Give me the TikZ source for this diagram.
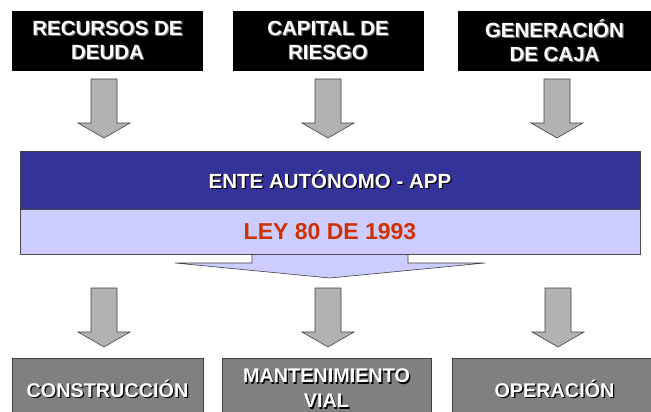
\documentclass[tikz,border=0pt]{standalone}
\usepackage{fontspec}
\setmainfont{Liberation Sans}
\usetikzlibrary{positioning}
\usepackage{xcolor}

\definecolor{enteblue}{HTML}{333399}
\definecolor{leyblue}{HTML}{CCCCFF}
\definecolor{leyred}{HTML}{CC3300}
\definecolor{arrowgray}{HTML}{B2B2B2}
\definecolor{boxgray}{HTML}{808080}

% white text with a dropped shadow
\newcommand{\shd}[2]{\makebox[0pt][l]{\hspace{1.3pt}\raisebox{-1.3pt}{\color{#1}#2}}#2}

\tikzset{
  srcbox/.style={fill=black, minimum width=191pt, minimum height=60pt, inner sep=0pt,
    text=white, align=center, font=\fontsize{20.5}{24}\selectfont\bfseries},
  outbox/.style={fill=boxgray, draw=black!75, line width=0.7pt, minimum width=191pt,
    minimum height=62pt, inner sep=0pt, text=white, align=center,
    font=\fontsize{19.8}{25}\selectfont\bfseries},
  downarrow/.pic={
    \draw[fill=arrowgray, draw=black!75, line width=0.6pt]
      (-13,0)--(-13,44)--(-26,44)--(0,59)--(26,44)--(13,44)--(13,0)--cycle;
  }
}

\begin{document}
\begin{tikzpicture}[x=1pt,y=-1pt]
\useasboundingbox (0,0) rectangle (651,412);

%%%%%%%%%%%%    sources   %%%%%%%%%%%%
\node[srcbox] (deuda) at (107.5,41) {\shd{black!55}{RECURSOS DE}\\\shd{black!55}{DEUDA}};
\node[srcbox] (riesgo) at (328,41) {\shd{black!55}{CAPITAL DE}\\\shd{black!55}{RIESGO}};
\node[srcbox, minimum width=193pt] (caja) at (554.5,41) {\shd{black!55}{GENERACIÓN}\\\shd{black!55}{DE CAJA}};

\pic at (104,79) {downarrow};
\pic at (328,79) {downarrow};
\pic at (557,79) {downarrow};

%%%%%%%%%%%%    ente and ley   %%%%%%%%%%%%
\node[fill=enteblue, draw=black!75, line width=0.6pt, minimum width=620pt, minimum height=58pt,
  inner sep=0pt, text=white, font=\fontsize{20.5}{24}\selectfont\bfseries]
  (ente) at (330,180) {\shd{black}{ENTE AUTÓNOMO - APP}};

\draw[fill=leyblue, draw=black!75, line width=0.6pt] (252,254)--(252,263)--(175,263)--(330,278)--(485,263)--(408,263)--(408,254);

\node[fill=leyblue, draw=black!70, line width=0.6pt, minimum width=620pt, minimum height=45pt,
  inner sep=0pt, text=leyred, font=\fontsize{23}{26}\selectfont\bfseries]
  (ley) at (330,231.5) {LEY 80 DE 1993};

\pic at (104,288) {downarrow};
\pic at (328,288) {downarrow};
\pic at (558,288) {downarrow};

%%%%%%%%%%%%    results   %%%%%%%%%%%%
\node[outbox] (constr) at (107.5,389) {\shd{black}{CONSTRUCCIÓN}};
\node[outbox, minimum width=209pt] (mant) at (326.5,389) {\shd{black}{MANTENIMIENTO}\\\shd{black}{VIAL}};
\node[outbox, minimum width=205pt] (oper) at (554.5,389) {\shd{black}{OPERACIÓN}};

\end{tikzpicture}
\end{document}
